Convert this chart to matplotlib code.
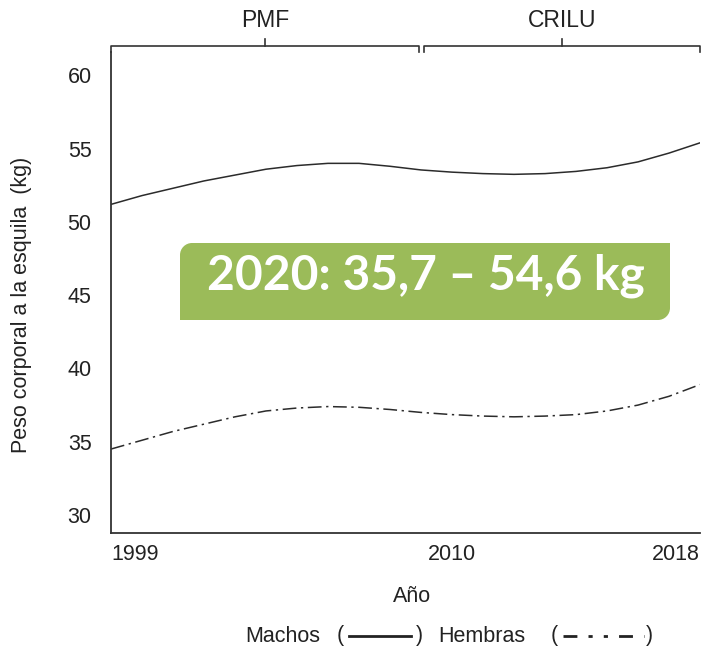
import matplotlib.pyplot as plt
from matplotlib.lines import Line2D
from matplotlib.path import Path
from matplotlib.patches import PathPatch
import matplotlib.transforms as mtransforms

# data
years = list(range(1999, 2019))
machos = [51.2, 51.8, 52.3, 52.8, 53.2, 53.6, 53.85, 54.0, 54.0, 53.8,
          53.55, 53.4, 53.3, 53.25, 53.3, 53.45, 53.7, 54.1, 54.7, 55.4]
hembras = [34.5, 35.1, 35.7, 36.2, 36.7, 37.1, 37.3, 37.4, 37.35, 37.2,
           37.0, 36.85, 36.75, 36.7, 36.75, 36.85, 37.1, 37.5, 38.1, 38.9]
y_ticks = [30, 35, 40, 45, 50, 55, 60]
x_ticks = [1999, 2010, 2018]
periods = [("PMF", 1999.0, 2008.95), ("CRILU", 2009.1, 2018.0)]
banner = "2020: 35,7 \u2013 54,6 kg"

plt.rcParams['font.family'] = ['Liberation Sans', 'DejaVu Sans']
W, H = 704, 657
fs = 15.5
txt = '#222222'
fig = plt.figure(figsize=(W / 100, H / 100), dpi=100)
ax = fig.add_axes([111 / W, 1 - 533 / H, (700 - 111) / W, (533 - 52) / H])

ink = '#2b2b2b'
ax.plot(years, machos, color=ink, lw=1.1)
ax.plot(years, hembras, color=ink, lw=1.1, linestyle=(0, (9, 3, 1.5, 3)))

ax.set_xlim(1999, 2018)
ax.set_ylim(28.77, 61.6)
ax.set_yticks(y_ticks)
ax.set_xticks(x_ticks)
ax.tick_params(axis='both', length=0, labelsize=fs, colors=txt)
ax.tick_params(axis='y', pad=14)
ax.tick_params(axis='x', pad=8)
labels = ax.get_xticklabels()
labels[0].set_ha('left')
labels[-1].set_ha('right')

for s in ['top', 'right']:
    ax.spines[s].set_visible(False)
for s in ['left', 'bottom']:
    ax.spines[s].set_color('#333333')
    ax.spines[s].set_linewidth(1.3)

# period brackets above the plot
trans = mtransforms.blended_transform_factory(ax.transData, ax.transAxes)
for name, x0, x1 in periods:
    xm = (x0 + x1) / 2
    ax.add_line(Line2D([x0, x0, x1, x1], [1.0, 1.0125, 1.0125, 1.0], transform=trans,
                       color='#333333', lw=1.2, clip_on=False))
    ax.add_line(Line2D([xm, xm], [1.0125, 1.026], transform=trans,
                       color='#333333', lw=1.2, clip_on=False))
    ax.text(xm, 1.066, name, transform=trans, ha='center', va='center',
            fontsize=16.5, color=txt)

# green banner with two rounded corners (top-left, bottom-right)
bx0, bx1, by0, by1, r = 180, 670, H - 320, H - 243, 12
k = 0.55 * r
verts = [(bx0, by0), (bx1 - r, by0),
         (bx1 - r + k, by0), (bx1, by0 + r - k), (bx1, by0 + r),
         (bx1, by1), (bx0 + r, by1),
         (bx0 + r - k, by1), (bx0, by1 - r + k), (bx0, by1 - r),
         (bx0, by0)]
codes = [Path.MOVETO, Path.LINETO, Path.CURVE4, Path.CURVE4, Path.CURVE4,
         Path.LINETO, Path.LINETO, Path.CURVE4, Path.CURVE4, Path.CURVE4,
         Path.CLOSEPOLY]
fig.add_artist(PathPatch(Path(verts, codes), facecolor='#9bbb59', edgecolor='none',
                         transform=None))
fig.text(426 / W, 1 - 276 / H, banner, ha='center', va='center',
         fontsize=34.5, fontweight='bold', color='white', family=['Lato', 'DejaVu Sans'])

# axis titles
fig.text(22 / W, 1 - 305 / H, "Peso corporal a la esquila  (kg)", rotation=90,
         ha='center', va='center', fontsize=fs, color=txt)
fig.text(412 / W, 1 - 597 / H, "A\u00f1o", ha='center', va='center',
         fontsize=fs, color=txt)

# legend line at the bottom
ly = 1 - 636 / H
fig.text(245 / W, ly, "Machos", ha='left', va='center', fontsize=fs, color=txt)
fig.text(337 / W, ly, "(", ha='left', va='center', fontsize=fs, color=txt)
fig.add_artist(Line2D([349 / W, 411 / W], [ly, ly], color=txt, lw=2))
fig.text(416 / W, ly, ")", ha='left', va='center', fontsize=fs, color=txt)
fig.text(438 / W, ly, "Hembras", ha='left', va='center', fontsize=fs, color=txt)
fig.text(551 / W, ly, "(", ha='left', va='center', fontsize=fs, color=txt)
fig.add_artist(Line2D([563 / W, 644 / W], [ly, ly], color=txt, lw=2,
                      linestyle=(0, (5, 4, 1.5, 4, 1.5, 4))))
fig.text(646 / W, ly, ")", ha='left', va='center', fontsize=fs, color=txt)

fig.savefig('out.png', dpi=100)
